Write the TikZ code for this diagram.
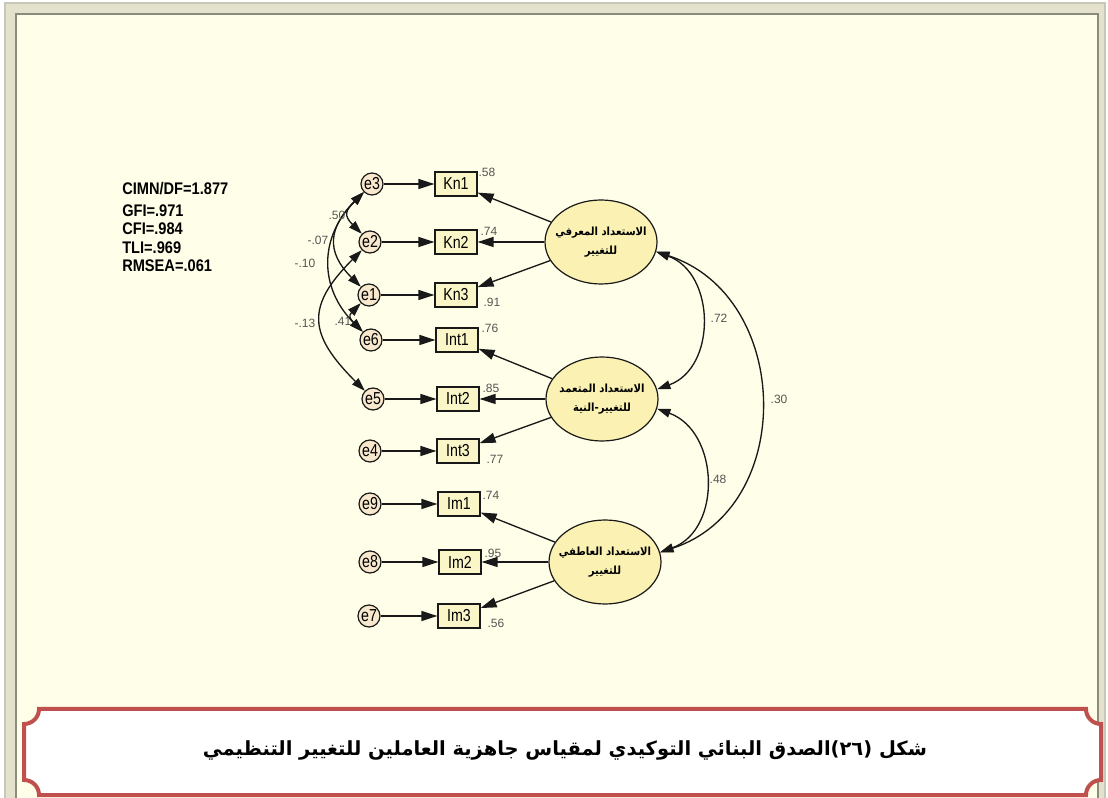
\documentclass[tikz,border=0pt]{standalone}
\usepackage{fontspec}
\usepackage{graphicx}
\usetikzlibrary{arrows.meta,shapes.geometric}
\TeXXeTstate=1
\setmainfont{Liberation Sans}
\newfontfamily\arabicfont[Script=Arabic]{DejaVu Sans}

\definecolor{bgcream}{RGB}{255,254,232}
\definecolor{framelight}{RGB}{228,226,204}
\definecolor{framedark}{RGB}{140,140,125}
\definecolor{framepale}{RGB}{200,200,185}
\definecolor{capred}{RGB}{192,80,77}
\definecolor{boxfill}{RGB}{251,246,200}
\definecolor{errfill}{RGB}{248,232,205}
\definecolor{latfill}{RGB}{250,241,178}
\definecolor{ink}{RGB}{25,25,25}
\definecolor{numgray}{RGB}{85,85,85}

% condensed sans for the AMOS labels
\newcommand{\narrowtxt}[1]{\scalebox{0.82}[1]{#1}}
\newcommand{\fitline}[1]{\scalebox{0.87}[1]{#1}}
% one right-to-left line of a factor name
\newcommand{\rtlline}[1]{\scalebox{0.9}[1]{\beginR #1\endR}}

\begin{document}
\begin{tikzpicture}[x=0.75pt,y=0.75pt,
  obs/.style={draw=ink, line width=0.9pt, fill=boxfill, minimum width=31.5pt,
    minimum height=18pt, inner sep=0pt, font=\fontsize{13}{14}\selectfont},
  err/.style={circle, draw=ink, line width=0.9pt, fill=errfill, minimum size=16.5pt,
    inner sep=0pt, font=\fontsize{13}{14}\selectfont},
  lat/.style={ellipse, draw=ink, line width=0.9pt, fill=latfill, minimum width=84pt,
    minimum height=63pt, inner sep=0pt},
  lattext/.style={align=center, inner sep=0pt,
    font=\arabicfont\bfseries\fontsize{8.4}{14}\selectfont},
  coef/.style={text=numgray, font=\fontsize{9}{10}\selectfont, inner sep=0pt},
  fitstat/.style={anchor=base west, inner sep=0pt, font=\bfseries\fontsize{12.6}{14}\selectfont},
  regpath/.style={draw=ink, line width=1pt, -{Triangle[length=12pt,width=7.5pt]}},
  cov/.style={draw=ink, line width=1pt,
    {Triangle[length=10pt,width=6.5pt]}-{Triangle[length=10pt,width=6.5pt]}},
]
\useasboundingbox (0,0) rectangle (1108,-798);

% bevelled outer frame and canvas
\fill[white] (0,0) rectangle (1108,-798);
\fill[framelight] (4,-2) rectangle (1106,-798);
\fill[bgcream] (17,-15) rectangle (1097,-798);
\draw[framepale, line width=1.5pt] (5,-798) -- (5,-3) -- (1105,-3) -- (1105,-798);
\draw[framedark, line width=2pt] (16,-798) -- (16,-14) -- (1098,-14) -- (1098,-798);

% caption panel with concave corners
\draw[capred, line width=3pt, fill=white]
  (39,-709) -- (1086,-709) arc[start angle=180,end angle=270,radius=15]
  -- (1101,-780) arc[start angle=90,end angle=180,radius=15]
  -- (39,-795) arc[start angle=0,end angle=90,radius=15]
  -- (24,-724) arc[start angle=270,end angle=360,radius=15] -- cycle;
\node[font=\arabicfont\bfseries\fontsize{14.6}{18}\selectfont] (caption) at (565,-750)
  {\beginR شكل (٢٦)الصدق البنائي التوكيدي لمقياس جاهزية العاملين للتغيير التنظيمي\endR};

% fit indices
\node[fitstat] (fit1) at (122,-195) {\fitline{CIMN/DF=1.877}};
\node[fitstat] (fit2) at (122,-217) {\fitline{GFI=.971}};
\node[fitstat] (fit3) at (122,-235) {\fitline{CFI=.984}};
\node[fitstat] (fit4) at (122,-254) {\fitline{TLI=.969}};
\node[fitstat] (fit5) at (122,-272) {\fitline{RMSEA=.061}};

% error terms
\node[err] (e3) at (372,-184) {\narrowtxt{e3}};
\node[err] (e2) at (370,-242) {\narrowtxt{e2}};
\node[err] (e1) at (369,-295) {\narrowtxt{e1}};
\node[err] (e6) at (371,-340) {\narrowtxt{e6}};
\node[err] (e5) at (373,-399) {\narrowtxt{e5}};
\node[err] (e4) at (370,-451) {\narrowtxt{e4}};
\node[err] (e9) at (370,-504) {\narrowtxt{e9}};
\node[err] (e8) at (370,-562) {\narrowtxt{e8}};
\node[err] (e7) at (369,-616) {\narrowtxt{e7}};

% observed indicators
\node[obs] (Kn1) at (456,-184) {\narrowtxt{Kn1}};
\node[obs] (Kn2) at (456,-242) {\narrowtxt{Kn2}};
\node[obs] (Kn3) at (456,-295) {\narrowtxt{Kn3}};
\node[obs] (Int1) at (457,-340) {\narrowtxt{Int1}};
\node[obs] (Int2) at (458,-399) {\narrowtxt{Int2}};
\node[obs] (Int3) at (458,-451) {\narrowtxt{Int3}};
\node[obs] (Im1) at (459,-504) {\narrowtxt{Im1}};
\node[obs] (Im2) at (460,-562) {\narrowtxt{Im2}};
\node[obs] (Im3) at (459,-616) {\narrowtxt{Im3}};

% latent factors
\node[lat] (F1) at (601,-242) {};
\node[lat] (F2) at (602,-399) {};
\node[lat] (F3) at (605,-562) {};
\node[lattext] (F1t) at (F1) {\rtlline{الاستعداد المعرفي}\\\rtlline{للتغيير}};
\node[lattext] (F2t) at (F2) {\rtlline{الاستعداد المتعمد}\\\rtlline{للتغيير-النية}};
\node[lattext] (F3t) at (F3) {\rtlline{الاستعداد العاطفي}\\\rtlline{للتغيير}};

% error -> indicator
\foreach \e/\o in {e3/Kn1,e2/Kn2,e1/Kn3,e6/Int1,e5/Int2,e4/Int3,e9/Im1,e8/Im2,e7/Im3}
  \draw[regpath] (\e) -- (\o);

% factor -> indicator
\foreach \f/\o in {F1/Kn1,F1/Kn2,F1/Kn3,F2/Int1,F2/Int2,F2/Int3,F3/Im1,F3/Im2,F3/Im3}
  \draw[regpath] (\f) -- (\o);

% standardized loadings
\node[coef] (l1) at (487,-172) {.58};
\node[coef] (l2) at (489,-231) {.74};
\node[coef] (l3) at (492,-302) {.91};
\node[coef] (l4) at (490,-328) {.76};
\node[coef] (l5) at (491,-388) {.85};
\node[coef] (l6) at (495,-459) {.77};
\node[coef] (l7) at (491,-495) {.74};
\node[coef] (l8) at (493,-553) {.95};
\node[coef] (l9) at (496,-623) {.56};

% error covariances
\draw[cov] (e3) to[out=225,in=135,looseness=1.6] (e2);
\draw[cov] (e3) to[out=225,in=135,looseness=1.35] (e1);
\draw[cov] (e3) to[out=225,in=135,looseness=1.15] (e6);
\draw[cov] (e2) to[out=225,in=135,looseness=1.45] (e5);
\draw[cov] (e1) to[out=225,in=135,looseness=1.6] (e6);
\node[coef] (c1) at (337,-215) {.50};
\node[coef] (c2) at (318,-240) {-.07};
\node[coef] (c3) at (305,-263) {-.10};
\node[coef] (c4) at (305,-323) {-.13};
\node[coef] (c5) at (343,-321) {.41};

% factor covariances
\draw[cov] (F1.-10) to[out=-20,in=20,looseness=1.18] (F2.10);
\draw[cov] (F2.-10) to[out=-20,in=20,looseness=1.18] (F3.10);
\draw[cov] (F1.-10) to[out=-18,in=18,looseness=1.22] (F3.10);
\node[coef] (r1) at (719,-318) {.72};
\node[coef] (r2) at (718,-479) {.48};
\node[coef] (r3) at (779,-399) {.30};
\end{tikzpicture}
\end{document}
